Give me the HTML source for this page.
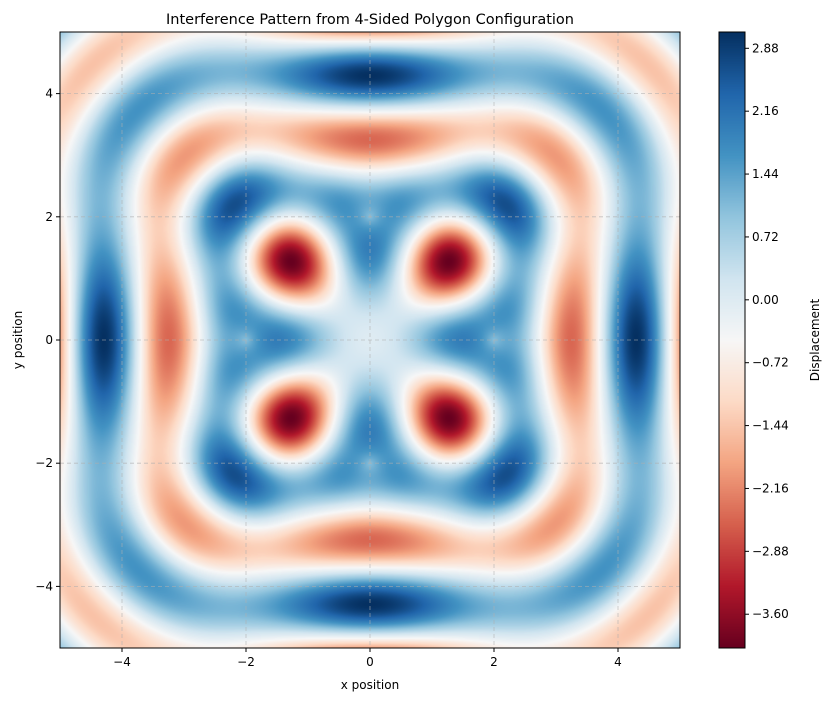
<!DOCTYPE html>
<html><head><meta charset="utf-8"><style>
body{margin:0;background:#fff;width:830px;height:701px;overflow:hidden;position:relative;font-family:"DejaVu Sans","Liberation Sans",sans-serif}
canvas{position:absolute}
svg{position:absolute;left:0;top:0}
</style></head><body>
<canvas id="heat" style="left:60px;top:32px" width="620" height="616"></canvas>
<canvas id="cbar" style="left:719px;top:32px" width="26" height="616"></canvas>
<svg id="ov" width="830" height="701"></svg>
<script>
const sourceX=[2,0,-2,0];
const sourceY=[0,2,0,-2];
const waveNumber=[Math.PI];
const axisTicks=[-4,-2,0,2,4];
const cbarTicks=[2.88,2.16,1.44,0.72,0.00,-0.72,-1.44,-2.16,-2.88,-3.60];
const domain=[-5,5];
const L=60,T=32,W=620,H=616;
const sx=v=>L+(v-domain[0])/(domain[1]-domain[0])*W;
const sy=v=>T+H-(v-domain[0])/(domain[1]-domain[0])*H;
const anchors=["#67001f","#b2182b","#d6604d","#f4a582","#fddbc7","#f7f7f7","#d1e5f0","#92c5de","#4393c3","#2166ac","#053061"].map(h=>[parseInt(h.slice(1,3),16),parseInt(h.slice(3,5),16),parseInt(h.slice(5,7),16)]);
function cmap(t){t=Math.max(0,Math.min(1,t));const p=t*10,i=Math.min(9,Math.floor(p)),f=p-i;return anchors[i].map((c,j)=>c+(anchors[i+1][j]-c)*f);}
function field(x,y){let s=0;for(let i=0;i<sourceX.length;i++){const r=Math.hypot(x-sourceX[i],y-sourceY[i]);s+=Math.sin(waveNumber[0]*r);}return s;}
const vals=new Float32Array(W*H);let vmin=1e9,vmax=-1e9;
for(let j=0;j<H;j++)for(let i=0;i<W;i++){const x=domain[0]+(i+0.5)/W*10,y=domain[1]-(j+0.5)/H*10;const v=field(x,y);vals[j*W+i]=v;if(v<vmin)vmin=v;if(v>vmax)vmax=v;}
const hc=document.getElementById('heat').getContext('2d');const img=hc.createImageData(W,H);
for(let k=0;k<W*H;k++){const c=cmap((vals[k]-vmin)/(vmax-vmin));img.data[k*4]=c[0];img.data[k*4+1]=c[1];img.data[k*4+2]=c[2];img.data[k*4+3]=255;}
hc.putImageData(img,0,0);
const cc=document.getElementById('cbar').getContext('2d');
for(let j=0;j<H;j++){const c=cmap(1-(j+0.5)/H);cc.fillStyle=`rgb(${c[0]|0},${c[1]|0},${c[2]|0})`;cc.fillRect(0,j,26,1);}
const ov=document.getElementById('ov');const NS="http://www.w3.org/2000/svg";
function mk(tag,attrs,text){const e=document.createElementNS(NS,tag);for(const k in attrs)e.setAttribute(k,attrs[k]);if(text!==undefined)e.textContent=text;ov.appendChild(e);return e;}
const fmt=v=>(v<0?"\u2212":"")+Math.abs(v);
axisTicks.forEach(v=>{
 let g=mk('line',{x1:sx(v),x2:sx(v),y1:T,y2:T+H,stroke:'#b0b0b0','stroke-width':0.8,'stroke-dasharray':'4,3',opacity:0.7});
 
 g=mk('line',{x1:L,x2:L+W,y1:sy(v),y2:sy(v),stroke:'#b0b0b0','stroke-width':0.8,'stroke-dasharray':'4,3',opacity:0.7});
 
 mk('line',{x1:sx(v),x2:sx(v),y1:T+H,y2:T+H+4,stroke:'#000'});
 let t=mk('text',{x:sx(v),y:T+H+18,'text-anchor':'middle','font-size':12},fmt(v));
 
 mk('line',{x1:L-4,x2:L,y1:sy(v),y2:sy(v),stroke:'#000'});
 t=mk('text',{x:L-7,y:sy(v)+4,'text-anchor':'end','font-size':12},fmt(v));
 
});
mk('rect',{x:L,y:T,width:W,height:H,fill:'none',stroke:'#000','stroke-width':1});
const cy=v=>T+H-(v-vmin)/(vmax-vmin)*H;
mk('rect',{x:719,y:T,width:26,height:H,fill:'none',stroke:'#000','stroke-width':1});
cbarTicks.forEach(v=>{mk('line',{x1:745,x2:749,y1:cy(v),y2:cy(v),stroke:'#000'});
 const t=mk('text',{x:752,y:cy(v)+4,'font-size':12},(v<0?"\u2212":"")+Math.abs(v).toFixed(2));
 });
</script>
<svg width="830" height="701" style="pointer-events:none">
<text x="370" y="24" text-anchor="middle" font-size="14.5">Interference Pattern from 4-Sided Polygon Configuration</text>
<text x="370" y="689" text-anchor="middle" font-size="12">x position</text>
<text x="22" y="340" text-anchor="middle" font-size="12" transform="rotate(-90 22 340)">y position</text>
<text x="819" y="340" text-anchor="middle" font-size="12" transform="rotate(-90 819 340)">Displacement</text>
</svg>
</body></html>
